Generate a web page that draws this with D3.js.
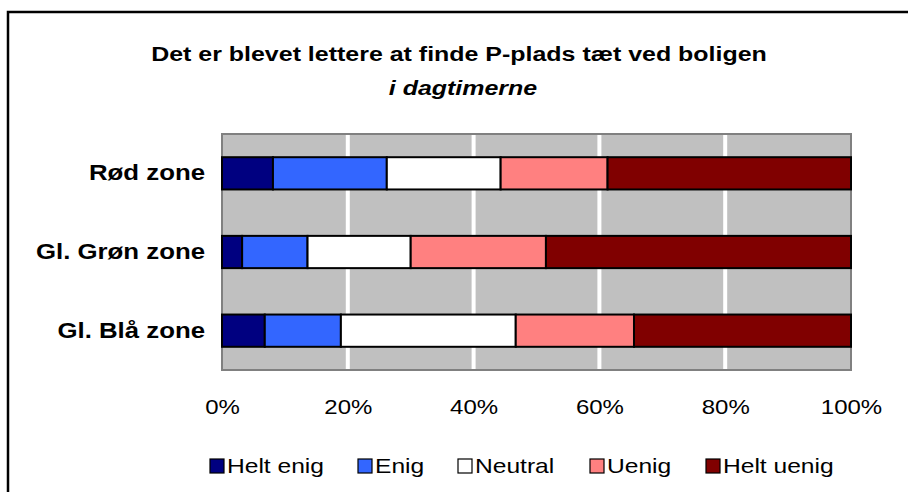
<!DOCTYPE html>
<html>
<head>
<meta charset="utf-8">
<script src="https://cdn.jsdelivr.net/npm/d3@7"></script>
<style>
  body { margin: 0; background: #fff; }
  svg { display: block; font-family: "Liberation Sans", Arial, sans-serif; }
</style>
</head>
<body>
<div id="chart"></div>
<script>
"use strict";
// chart data
var zones = ["Rød zone", "Gl. Grøn zone", "Gl. Blå zone"];
var answers = ["Helt enig", "Enig", "Neutral", "Uenig", "Helt uenig"];
var heltEnig = [8.1, 3.2, 6.8];
var enig = [18.1, 10.4, 12.1];
var neutral = [18.1, 16.4, 27.8];
var uenig = [17.0, 21.5, 18.8];
var heltUenig = [38.7, 48.5, 34.5];
var tickValues = [0, 0.2, 0.4, 0.6, 0.8, 1];
var colors = ["#000080", "#3366FF", "#FFFFFF", "#FF8080", "#800000"];

var rows = zones.map(function (z, i) {
    return { zone: z, "Helt enig": heltEnig[i], "Enig": enig[i], "Neutral": neutral[i],
             "Uenig": uenig[i], "Helt uenig": heltUenig[i] };
});
rows.forEach(function (r) {
    var total = answers.reduce(function (s, a) { return s + r[a]; }, 0);
    answers.forEach(function (a) { r[a] = r[a] / total; });
});

var width = 908, height = 492;
var plot = { left: 222, top: 134, right: 851, bottom: 370 };
var STRETCH = 1.2; // the original text is drawn a bit wide

// widen a text around its own x anchor
function stretch(sel) {
    sel.each(function () {
        var t = d3.select(this);
        var x0 = +t.attr("x") || 0;
        t.attr("transform", "translate(" + x0 + ",0) scale(" + STRETCH + ",1) translate(" + (-x0) + ",0)");
    });
}

var svg = d3.select("#chart").append("svg")
    .attr("width", width)
    .attr("height", height);

// outer frame
svg.append("rect")
    .attr("x", 8).attr("y", 12)
    .attr("width", width).attr("height", height)
    .attr("fill", "none").attr("stroke", "#000").attr("stroke-width", 2.5);

svg.append("text")
    .attr("x", 459).attr("y", 61)
    .attr("text-anchor", "middle")
    .style("font-weight", "bold").style("font-size", "20.8px")
    .text("Det er blevet lettere at finde P-plads tæt ved boligen")
    .call(stretch);
svg.append("text")
    .attr("x", 463).attr("y", 95)
    .attr("text-anchor", "middle")
    .style("font-weight", "bold").style("font-style", "italic").style("font-size", "20.8px")
    .text("i dagtimerne")
    .call(stretch);

var x = d3.scaleLinear().domain([0, 1]).range([plot.left, plot.right]);
var y = d3.scaleBand().domain(zones).range([plot.top, plot.bottom]).paddingInner(0.59).paddingOuter(0.295);

svg.append("rect")
    .attr("x", plot.left).attr("y", plot.top)
    .attr("width", plot.right - plot.left).attr("height", plot.bottom - plot.top)
    .attr("fill", "#C0C0C0");

svg.append("g").selectAll("line")
    .data(tickValues.slice(1, -1))
    .enter().append("line")
    .attr("x1", function (d) { return x(d); })
    .attr("x2", function (d) { return x(d); })
    .attr("y1", plot.top).attr("y2", plot.bottom)
    .attr("stroke", "#fff").attr("stroke-width", 4);

svg.append("rect")
    .attr("x", plot.left).attr("y", plot.top)
    .attr("width", plot.right - plot.left).attr("height", plot.bottom - plot.top)
    .attr("fill", "none").attr("stroke", "#808080").attr("stroke-width", 2);

var stack = d3.stack().keys(answers);
var series = stack(rows);

svg.append("g").selectAll("g")
    .data(series)
    .enter().append("g")
    .attr("fill", function (d, i) { return colors[i]; })
    .selectAll("rect")
    .data(function (d) { return d; })
    .enter().append("rect")
    .attr("x", function (d) { return x(d[0]); })
    .attr("y", function (d) { return y(d.data.zone); })
    .attr("width", function (d) { return x(d[1]) - x(d[0]); })
    .attr("height", y.bandwidth())
    .attr("stroke", "#000").attr("stroke-width", 2);

// axes
var yAxis = svg.append("g")
    .attr("transform", "translate(" + plot.left + ",0)")
    .call(d3.axisLeft(y).tickSize(0).tickPadding(17));
yAxis.select(".domain").remove();
yAxis.selectAll("text")
    .style("font-size", "21.5px").style("font-weight", "bold")
    .attr("fill", "#000").attr("font-family", null)
    .call(stretch);

var xAxis = svg.append("g")
    .attr("transform", "translate(0," + plot.bottom + ")")
    .call(d3.axisBottom(x).tickValues(tickValues).tickFormat(d3.format(".0%")).tickSize(0).tickPadding(30));
xAxis.select(".domain").remove();
xAxis.selectAll("text")
    .style("font-size", "20px")
    .attr("fill", "#000").attr("font-family", null)
    .call(stretch);

// legend
var legendX = [210, 358, 458, 590, 706];
var legend = svg.append("g").selectAll("g")
    .data(answers)
    .enter().append("g")
    .attr("transform", function (d, i) { return "translate(" + legendX[i] + ",459)"; });
legend.append("rect")
    .attr("width", 14).attr("height", 14)
    .attr("fill", function (d, i) { return colors[i]; })
    .attr("stroke", "#000").attr("stroke-width", 1.2);
legend.append("text")
    .attr("x", 17).attr("y", 14)
    .style("font-size", "20.5px")
    .text(function (d) { return d; })
    .call(stretch);
</script>
</body>
</html>
